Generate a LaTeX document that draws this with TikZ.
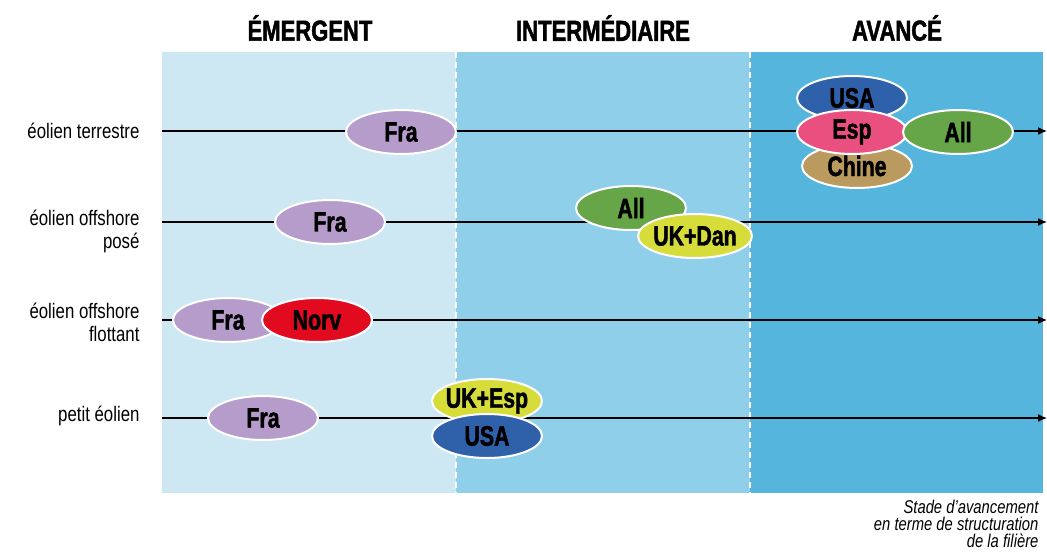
\documentclass[tikz,border=0pt]{standalone}
\usepackage{fontspec}
\setmainfont{Liberation Sans}
\newfontfamily\cond[FakeStretch=0.8]{Liberation Sans}
\newfontfamily\condblack[FakeStretch=0.76,BoldFeatures={FakeBold=1.6}]{Liberation Sans}
\usetikzlibrary{shapes.geometric,arrows.meta}
\newcommand\ctrylab[1]{\makebox[0pt]{#1}}
\definecolor{pA}{HTML}{CDE8F3}
\definecolor{pB}{HTML}{8FCFE9}
\definecolor{pC}{HTML}{55B5DD}
\definecolor{cFra}{HTML}{B59CCB}
\definecolor{cRed}{HTML}{E10A1E}
\definecolor{cGreen}{HTML}{66A548}
\definecolor{cYel}{HTML}{D6DD3A}
\definecolor{cBlue}{HTML}{2F60AA}
\definecolor{cPink}{HTML}{E9507F}
\definecolor{cTan}{HTML}{BA9A5E}
\tikzset{
  country/.style={ellipse, draw=white, line width=2pt, minimum width=110pt, minimum height=44pt, inner sep=0pt, font=\condblack\bfseries\fontsize{28}{28}\selectfont, text=black},
  head/.style={font=\condblack\bfseries\fontsize{29}{29}\selectfont, anchor=center},
  rowlab/.style={font=\cond\fontsize{21}{23}\selectfont, align=right, anchor=east},
  axis/.style={line width=1.3pt, -{Latex[length=9pt,width=8pt]}},
  divider/.style={white, line width=1.2pt, dash pattern=on 6pt off 4pt}
}
\begin{document}
\begin{tikzpicture}[x=1pt,y=-1pt]
\useasboundingbox (0,0) rectangle (1047,552);
\fill[white] (0,0) rectangle (1047,552);
% panels
\fill[pA] (162,52) rectangle (456,493);
\fill[pB] (456,52) rectangle (750,493);
\fill[pC] (750,52) rectangle (1043,493);
\draw[divider] (456,52) -- (456,493);
\draw[divider] (750,52) -- (750,493);
% headings
\node[head] (h1) at (310,28) {ÉMERGENT};
\node[head] (h2) at (603,28) {INTERMÉDIAIRE};
\node[head] (h3) at (897,28) {AVANCÉ};
% row labels
\node[rowlab] (r1) at (143,131) {éolien terrestre};
\node[rowlab] (r2) at (143,231) {éolien offshore\\posé};
\node[rowlab] (r3) at (143,322) {éolien offshore\\flottant};
\node[rowlab] (r4) at (143,416) {petit éolien};
% axes
\coordinate (s1) at (162,131); \coordinate (e1) at (1047,131);
\coordinate (s2) at (162,222); \coordinate (e2) at (1047,222);
\coordinate (s3) at (162,320); \coordinate (e3) at (1047,320);
\coordinate (s4) at (162,418); \coordinate (e4) at (1047,418);
\draw[axis] (s1) -- (e1);
\draw[axis] (s2) -- (e2);
\draw[axis] (s3) -- (e3);
\draw[axis] (s4) -- (e4);
% row 1
\node[country, fill=cFra] (fra1) at (401,132) {\ctrylab{Fra}};
\node[country, fill=cTan] (chine) at (857,166) {\ctrylab{Chine}};
\node[country, fill=cBlue] (usa1) at (852,98) {\ctrylab{USA}};
\node[country, fill=cPink] (esp1) at (852,132) {\ctrylab{Esp}};
\node[country, fill=cGreen] (all1) at (958,132) {\ctrylab{All}};
% row 2
\node[country, fill=cFra] (fra2) at (330,222) {\ctrylab{Fra}};
\node[country, fill=cGreen] (all2) at (631,208) {\ctrylab{All}};
\node[country, fill=cYel, minimum width=114pt] (ukdan) at (695,236) {\ctrylab{UK+Dan}};
% row 3
\node[country, fill=cFra] (fra3) at (228,320) {\ctrylab{Fra}};
\node[country, fill=cRed] (norv) at (317,320) {\ctrylab{Norv}};
% row 4
\node[country, fill=cFra] (fra4) at (263,418) {\ctrylab{Fra}};
\node[country, fill=cYel] (ukesp) at (487,401) {\ctrylab{UK+Esp}};
\node[country, fill=cBlue] (usa4) at (487,436) {\ctrylab{USA}};
% note
\node[font=\cond\itshape\fontsize{18.5}{17}\selectfont, align=right, anchor=north east] (note) at (1042,497) {Stade d’avancement\\en terme de structuration\\de la filière};
\end{tikzpicture}
\end{document}
